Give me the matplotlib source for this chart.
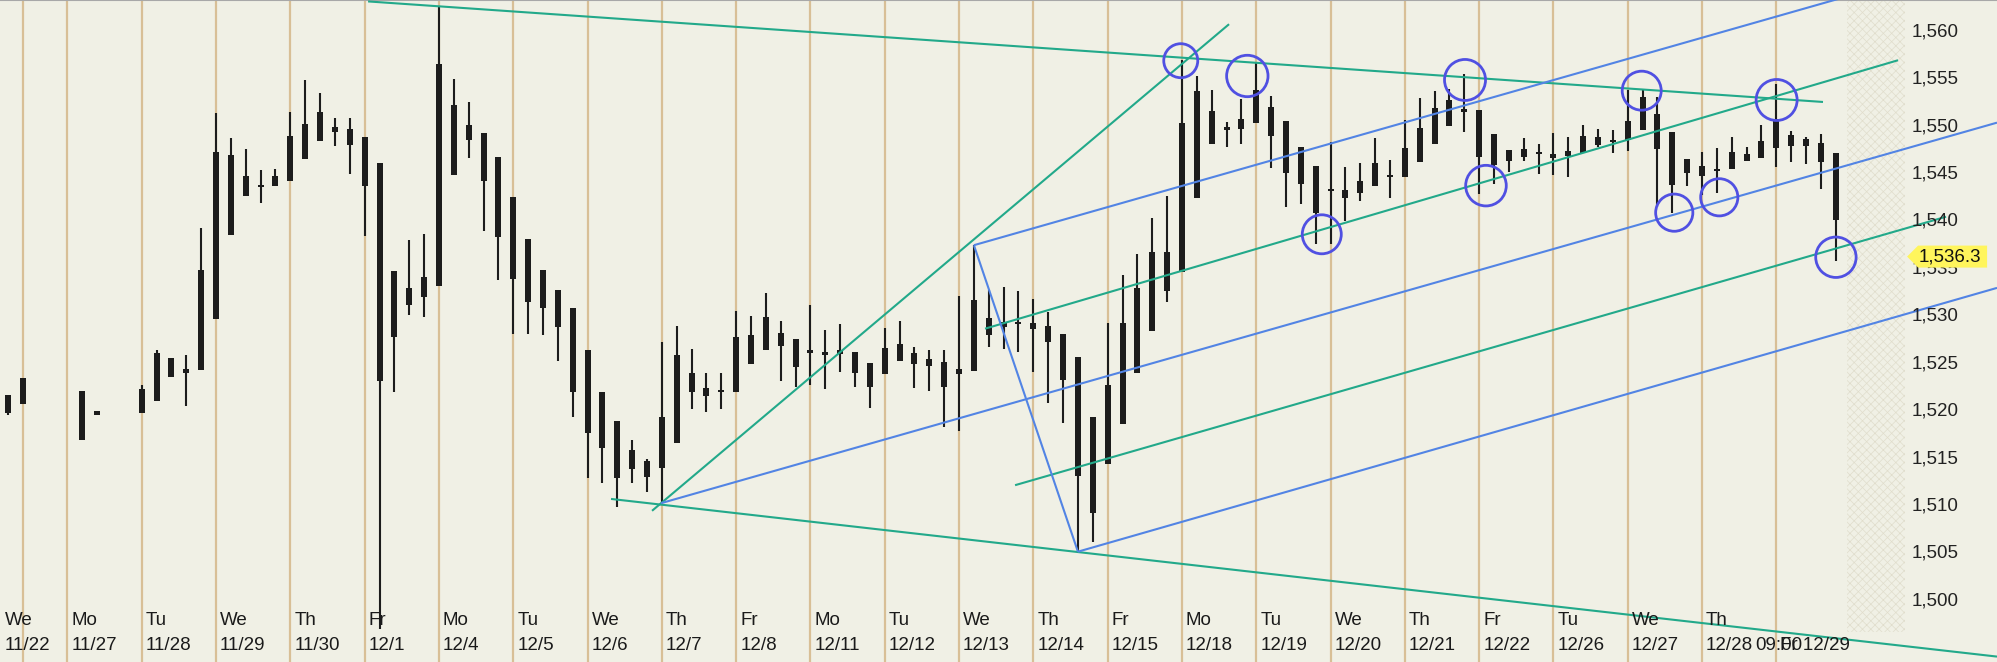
import numpy as np
import matplotlib
matplotlib.use('Agg')
import matplotlib.pyplot as plt
from matplotlib.patches import Polygon

nan = float('nan')

# 5 bars per session, nan = no bar in that slot
opens = [1519.8, 1523.5, nan, nan, nan,
         1517.0, 1519.6, nan, nan, 1519.8,
         1521.1, 1525.6, 1524.0, 1524.3, 1529.7,
         1547.0, 1542.7, 1543.8, 1543.7, 1544.3,
         1546.6, 1548.5, 1550.0, 1549.8, 1548.9,
         1546.2, 1527.8, 1533.0, 1532.0, 1533.2,
         1552.3, 1548.6, 1549.3, 1546.8, 1542.6,
         1538.2, 1534.9, 1532.8, 1530.9, 1526.5,
         1522.0, 1519.0, 1513.9, 1514.8, 1514.0,
         1516.7, 1524.0, 1522.4, 1522.0, 1522.0,
         1528.0, 1526.5, 1528.2, 1527.6, 1526.2,
         1526.2, 1526.0, 1526.2, 1525.1, 1523.9,
         1527.1, 1526.1, 1525.5, 1525.2, 1523.9,
         1524.2, 1529.8, 1528.9, 1529.2, 1529.3,
         1529.0, 1528.1, 1525.7, 1509.3, 1514.4,
         1518.6, 1524.0, 1528.5, 1536.8, 1534.7,
         1542.5, 1551.7, 1549.7, 1549.8, 1550.4,
         1552.1, 1550.6, 1547.9, 1545.9, 1543.2,
         1543.3, 1543.0, 1543.7, 1544.9, 1544.7,
         1546.3, 1548.2, 1550.1, 1551.9, 1551.8,
         1549.2, 1547.5, 1546.8, 1547.3, 1547.1,
         1546.9, 1547.2, 1548.9, 1548.4, 1548.6,
         1549.6, 1551.3, 1549.4, 1545.1, 1545.8,
         1545.3, 1545.5, 1547.1, 1546.7, 1547.7,
         1549.1, 1548.0, 1548.3, 1547.2]
highs = [1521.7, 1523.5, nan, nan, nan,
         1522.1, 1520.0, nan, nan, 1522.8,
         1526.4, 1525.6, 1525.9, 1539.3, 1551.4,
         1548.8, 1547.6, 1545.4, 1545.5, 1551.5,
         1554.9, 1553.5, 1550.9, 1550.9, 1548.9,
         1546.2, 1534.8, 1538.1, 1538.7, 1562.7,
         1555.0, 1552.6, 1549.3, 1546.8, 1542.6,
         1538.2, 1534.9, 1532.8, 1530.9, 1526.5,
         1522.0, 1519.0, 1517.0, 1515.0, 1527.3,
         1529.0, 1526.6, 1524.0, 1524.0, 1530.6,
         1530.0, 1532.5, 1529.5, 1527.6, 1531.2,
         1528.6, 1529.2, 1526.2, 1525.1, 1528.8,
         1529.5, 1526.8, 1526.5, 1526.4, 1532.1,
         1537.5, 1532.8, 1533.1, 1532.7, 1531.8,
         1530.5, 1528.1, 1525.7, 1519.4, 1529.3,
         1534.4, 1536.6, 1540.4, 1542.7, 1557.0,
         1555.3, 1553.9, 1550.5, 1552.9, 1556.8,
         1553.2, 1550.6, 1547.9, 1545.9, 1548.4,
         1545.7, 1546.2, 1548.8, 1546.5, 1550.7,
         1553.0, 1553.8, 1554.0, 1555.6, 1551.8,
         1549.2, 1547.5, 1548.8, 1548.2, 1549.3,
         1548.9, 1550.2, 1549.8, 1549.6, 1553.9,
         1553.9, 1553.1, 1549.4, 1546.6, 1547.3,
         1547.7, 1548.9, 1547.9, 1550.2, 1554.5,
         1549.5, 1548.9, 1549.2, 1547.2]
lows = [1519.6, 1520.8, nan, nan, nan,
        1517.0, 1519.6, nan, nan, 1519.8,
        1521.1, 1523.6, 1520.6, 1524.3, 1529.7,
        1538.6, 1542.7, 1541.9, 1543.7, 1544.3,
        1546.6, 1548.5, 1548.0, 1545.0, 1538.5,
        1497.0, 1522.0, 1530.1, 1529.9, 1533.2,
        1544.9, 1546.7, 1539.0, 1533.8, 1528.1,
        1528.1, 1528.0, 1525.3, 1519.4, 1513.0,
        1512.4, 1509.9, 1512.4, 1511.5, 1510.3,
        1516.7, 1520.2, 1519.9, 1520.2, 1522.0,
        1525.0, 1526.5, 1523.2, 1522.6, 1522.8,
        1522.3, 1524.1, 1522.5, 1520.3, 1523.9,
        1525.3, 1522.4, 1522.1, 1518.3, 1517.9,
        1524.2, 1526.8, 1526.6, 1526.2, 1524.1,
        1520.9, 1518.8, 1505.1, 1506.2, 1514.4,
        1518.6, 1524.0, 1528.5, 1531.5, 1534.7,
        1542.5, 1548.2, 1547.9, 1548.2, 1550.4,
        1545.6, 1541.5, 1541.8, 1537.6, 1537.6,
        1540.1, 1542.2, 1543.7, 1542.5, 1544.7,
        1546.3, 1548.2, 1550.1, 1549.4, 1542.9,
        1544.0, 1545.2, 1546.4, 1545.0, 1544.9,
        1544.7, 1547.2, 1547.9, 1547.2, 1547.4,
        1549.6, 1541.5, 1540.9, 1543.7, 1542.8,
        1543.0, 1545.5, 1546.4, 1546.7, 1545.7,
        1546.3, 1546.1, 1543.4, 1535.8]
closes = [1521.7, 1520.8, nan, nan, nan,
          1522.1, 1520.0, nan, nan, 1522.3,
          1526.1, 1523.6, 1524.5, 1534.9, 1547.3,
          1538.6, 1544.8, 1543.6, 1544.8, 1549.0,
          1550.3, 1551.5, 1549.4, 1548.1, 1543.7,
          1523.2, 1534.8, 1531.2, 1534.2, 1556.6,
          1544.9, 1550.2, 1544.3, 1538.4, 1533.9,
          1531.5, 1530.9, 1528.9, 1522.0, 1517.7,
          1516.1, 1513.0, 1515.9, 1513.1, 1519.4,
          1525.9, 1522.0, 1521.6, 1522.2, 1527.8,
          1525.0, 1529.9, 1526.9, 1524.7, 1526.4,
          1525.9, 1526.5, 1524.0, 1522.5, 1526.7,
          1525.3, 1525.0, 1524.8, 1522.5, 1524.4,
          1531.7, 1528.0, 1529.4, 1529.4, 1528.7,
          1527.3, 1523.3, 1513.2, 1519.4, 1522.8,
          1529.3, 1533.0, 1536.8, 1532.7, 1550.4,
          1553.8, 1548.2, 1549.9, 1550.8, 1553.9,
          1549.0, 1545.1, 1544.0, 1540.9, 1543.4,
          1542.5, 1544.3, 1546.2, 1544.7, 1547.8,
          1549.9, 1552.0, 1552.8, 1551.5, 1546.8,
          1546.0, 1546.4, 1547.6, 1547.1, 1546.7,
          1547.4, 1549.0, 1548.1, 1548.6, 1550.6,
          1553.1, 1547.6, 1543.8, 1546.6, 1544.8,
          1545.5, 1547.3, 1546.4, 1548.5, 1550.8,
          1548.0, 1548.7, 1546.3, 1540.2]
last_price = 1536.3

# session separators (bar slot of first bar) and their labels
sep_bars = [1, 4, 9, 14, 19, 24, 29, 34, 39, 44, 49, 54, 59, 64, 69, 74,
            79, 84, 89, 94, 99, 104, 109, 114, 119]
label_bars = [-0.47, 4, 9, 14, 19, 24, 29, 34, 39, 44, 49, 54, 59, 64, 69,
              74, 79, 84, 89, 94, 99, 104, 109, 114]
day_names = ['We', 'Mo', 'Tu', 'We', 'Th', 'Fr', 'Mo', 'Tu', 'We', 'Th', 'Fr',
             'Mo', 'Tu', 'We', 'Th', 'Fr', 'Mo', 'Tu', 'We', 'Th', 'Fr', 'Tu',
             'We', 'Th']
day_dates = ['11/22', '11/27', '11/28', '11/29', '11/30', '12/1', '12/4',
             '12/5', '12/6', '12/7', '12/8', '12/11', '12/12', '12/13', '12/14',
             '12/15', '12/18', '12/19', '12/20', '12/21', '12/22', '12/26',
             '12/27', '12/28']

price_ticks = [1500, 1505, 1510, 1515, 1520, 1525, 1530, 1535, 1540, 1545,
               1550, 1555, 1560]

# drawn trend lines: (bar, price) -> (bar, price)
green_lines = [((24.23, 1563.2), (122.14, 1552.6)),
               ((40.58, 1510.75), (133.85, 1494.13)),
               ((43.34, 1509.5), (82.17, 1560.8)),
               ((65.75, 1528.7), (127.19, 1557.0)),
               ((67.77, 1512.2), (130.42, 1540.5))]
blue_lines = [((65.0, 1537.5), (134.0, 1568.3)),
              ((43.94, 1510.3), (133.85, 1550.42)),
              ((72.0, 1505.19), (133.85, 1533.0)),
              ((65.0, 1537.5), (72.0, 1505.19))]

# highlighted swing points
circle_bar = [78.92, 83.40, 88.41, 98.05, 99.46, 109.94, 112.13, 115.16, 119.02, 123.01]
circle_price = [1556.95, 1555.34, 1538.65, 1554.92, 1543.78, 1553.79, 1540.93,
                1542.55, 1552.81, 1536.23]
circle_rad = [17, 20.7, 19.5, 20.5, 20.3, 19.5, 18.6, 18.6, 20.5, 20.2]  # px

bg = '#f0f0e5'
sep_col = '#d8bf96'
green = '#22a98a'
blue = '#5284e4'
ring = '#5050e2'
ink = '#1c1c1c'
font = ['Liberation Sans', 'DejaVu Sans']
fs = 13.5

W, H = 1997, 662
fig = plt.figure(figsize=(W / 100, H / 100), dpi=100, facecolor=bg)
ax = fig.add_axes([0, 0, 1, 1], facecolor=bg)
x0, x1 = -0.54, 133.85
y0, y1 = 1493.56, 1563.35
ax.set_xlim(x0, x1)
ax.set_ylim(y0, y1)
ax.set_xticks([])
ax.set_yticks([])
for s in ['left', 'right', 'bottom']:
    ax.spines[s].set_visible(False)
ax.spines['top'].set_color('#a8a8a8')
ax.spines['top'].set_linewidth(1.5)

# pixel size in data units
px_x = (x1 - x0) / W
px_y = (y1 - y0) / H

# hatched margin right of the last bar
plt.rcParams['hatch.linewidth'] = 0.5
ax.axvspan(123.75, 127.66, ymin=0.045, ymax=1, facecolor='none',
           edgecolor='#e0ddcc', hatch='xxxx', lw=0, zorder=0)

for b in sep_bars:
    ax.axvline(b, color=sep_col, lw=1.6, zorder=1)

# candles
o = np.array(opens)
h = np.array(highs)
l = np.array(lows)
c = np.array(closes)
idx = np.arange(len(o))
ok = ~np.isnan(o)
ax.vlines(idx[ok], l[ok], h[ok], color=ink, lw=1.5, zorder=3)
top = np.maximum(o, c)
bot = np.minimum(o, c)
hgt = np.maximum(top - bot, 2.2 * px_y)
mid = (top + bot) / 2
ax.bar(idx[ok], hgt[ok], bottom=(mid - hgt / 2)[ok], width=6 * px_x,
       color=ink, lw=0, zorder=3)

for (xa, ya), (xb, yb) in green_lines:
    ax.plot([xa, xb], [ya, yb], color=green, lw=1.5, zorder=4,
            solid_capstyle='butt')
for (xa, ya), (xb, yb) in blue_lines:
    ax.plot([xa, xb], [ya, yb], color=blue, lw=1.5, zorder=4,
            solid_capstyle='butt')

sizes = [(2 * r * 0.72) ** 2 for r in circle_rad]
ax.scatter(circle_bar, circle_price, s=sizes, facecolors='none',
           edgecolors=ring, linewidths=2.0, zorder=5)

# price scale inside the plot
ytr = ax.get_yaxis_transform()
for p in price_ticks:
    ax.text(0.9574, p, f'{p:,}', transform=ytr, ha='left', va='center',
            fontsize=fs, family=font, color='#222222', zorder=6)

# last price tag
tip = 127.8
bx0 = tip + 11 * px_x
bx1 = tip + 80 * px_x
hh = 11 * px_y
tag = Polygon([(tip, last_price), (bx0, last_price + hh), (bx1, last_price + hh),
               (bx1, last_price - hh), (bx0, last_price - hh)],
              closed=True, facecolor='#fff55c', edgecolor='none', zorder=7)
ax.add_patch(tag)
ax.text(bx0 + 1 * px_x, last_price, f'{last_price:,.1f}', ha='left',
        va='center', fontsize=fs, family=font, color='#111111', zorder=8)

# date labels
xtr = ax.get_xaxis_transform()
for b, n, d in zip(label_bars, day_names, day_dates):
    ax.text(b + 0.27, 0.0634, n, transform=xtr, ha='left', va='center',
            fontsize=fs, family=font, color='#1a1a1a', zorder=6)
    ax.text(b + 0.27, 0.0242, d, transform=xtr, ha='left', va='center',
            fontsize=fs, family=font, color='#1a1a1a', zorder=6)
ax.text(117.56, 0.0242, '09:00', transform=xtr, ha='left', va='center',
        fontsize=fs, family=font, color='#1a1a1a', zorder=6)
ax.text(119.27, 0.0242, 'Fr 12/29', transform=xtr, ha='left', va='center',
        fontsize=fs, family=font, color='#1a1a1a', zorder=6)

fig.savefig('out.png', dpi=100, facecolor=bg)
